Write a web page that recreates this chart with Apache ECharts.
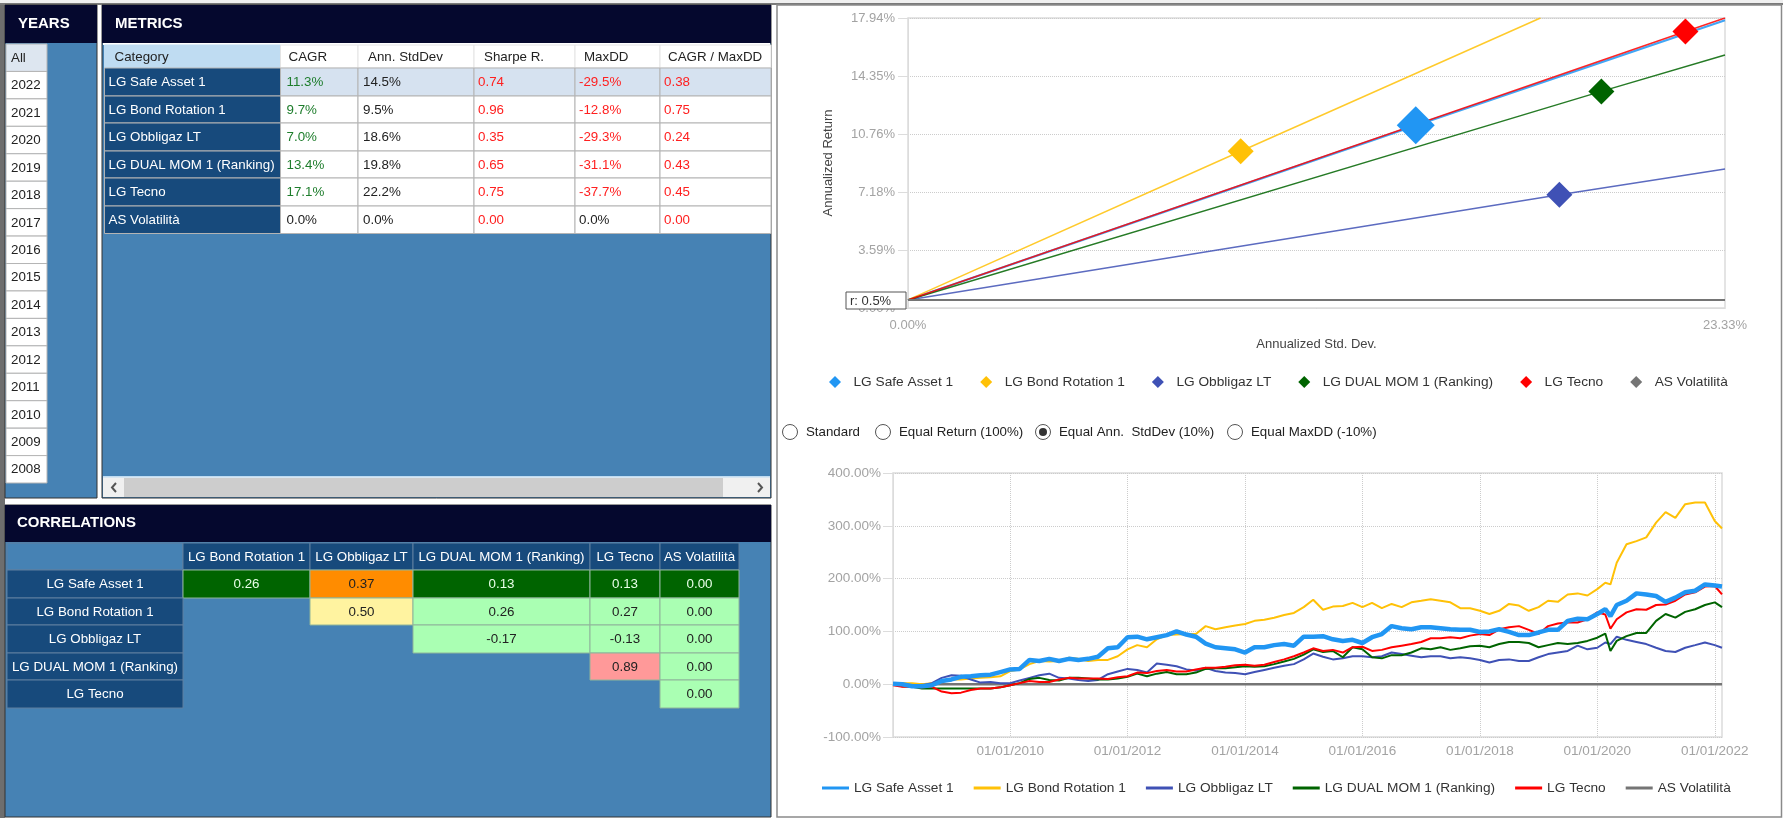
<!DOCTYPE html>
<html>
<head>
<meta charset="utf-8">
<title>Portfolio metrics</title>
<script src="https://cdn.jsdelivr.net/npm/echarts@6/dist/echarts.min.js"></script>
<style>
    html, body { margin: 0; padding: 0; background: #fff; }
    #main { width: 1783px; height: 818px; }
</style>
</head>
<body>
<div id="main"></div>
<script>
const seriesNames = ['LG Safe Asset 1', 'LG Bond Rotation 1', 'LG Obbligaz LT', 'LG DUAL MOM 1 (Ranking)', 'LG Tecno', 'AS Volatilità'];

// years list
const yearLabels = ['All', '2022', '2021', '2020', '2019', '2018', '2017', '2016', '2015', '2014', '2013', '2012', '2011', '2010', '2009', '2008'];

// metrics table
const metricHeaders = ['Category', 'CAGR', 'Ann. StdDev', 'Sharpe R.', 'MaxDD', 'CAGR / MaxDD'];
const cagr = [11.3, 9.7, 7.0, 13.4, 17.1, 0.0];
const annStdDev = [14.5, 9.5, 18.6, 19.8, 22.2, 0.0];
const sharpe = [0.74, 0.96, 0.35, 0.65, 0.75, 0.00];
const maxDD = [-29.5, -12.8, -29.3, -31.1, -37.7, 0.0];
const cagrMaxDD = [0.38, 0.75, 0.24, 0.43, 0.45, 0.00];

// correlations table
const corrRowNames = ['LG Safe Asset 1', 'LG Bond Rotation 1', 'LG Obbligaz LT', 'LG DUAL MOM 1 (Ranking)', 'LG Tecno'];
const corrColNames = ['LG Bond Rotation 1', 'LG Obbligaz LT', 'LG DUAL MOM 1 (Ranking)', 'LG Tecno', 'AS Volatilità'];
const corrSafe = [0.26, 0.37, 0.13, 0.13, 0.00];
const corrBond = [null, 0.50, 0.26, 0.27, 0.00];
const corrObbl = [null, null, -0.17, -0.13, 0.00];
const corrDual = [null, null, null, 0.89, 0.00];
const corrTecno = [null, null, null, null, 0.00];

// risk / return chart: [std dev, return]
const riskFree = 0.5;
const riskEnds = [[23.33, 17.8], [18.06, 17.94], [23.33, 8.6], [23.33, 15.65], [23.33, 17.94], [23.33, 0.5]];
const riskTicks = [0, 23.33];

// equity lines
const dates = [
    '2008-01-03', '2008-03-01', '2008-05-01', '2008-07-01', '2008-09-01', '2008-11-01',
    '2009-01-01', '2009-03-01', '2009-05-01', '2009-07-01', '2009-09-01', '2009-11-01',
    '2010-01-01', '2010-03-01', '2010-05-01', '2010-07-01', '2010-09-01', '2010-11-01',
    '2011-01-01', '2011-03-01', '2011-05-01', '2011-07-01', '2011-09-01', '2011-11-01',
    '2012-01-01', '2012-03-01', '2012-05-01', '2012-07-01', '2012-09-01', '2012-11-01',
    '2013-01-01', '2013-03-01', '2013-05-01', '2013-07-01', '2013-09-01', '2013-11-01',
    '2014-01-01', '2014-03-01', '2014-05-01', '2014-07-01', '2014-09-01', '2014-11-01',
    '2015-01-01', '2015-03-01', '2015-05-01', '2015-07-01', '2015-09-01', '2015-11-01',
    '2016-01-01', '2016-03-01', '2016-05-01', '2016-07-01', '2016-09-01', '2016-11-01',
    '2017-01-01', '2017-03-01', '2017-05-01', '2017-07-01', '2017-09-01', '2017-11-01',
    '2018-01-01', '2018-03-01', '2018-05-01', '2018-07-01', '2018-09-01', '2018-11-01',
    '2019-01-01', '2019-03-01', '2019-05-01', '2019-07-01', '2019-09-01', '2019-11-01',
    '2020-01-01', '2020-02-20', '2020-03-23', '2020-05-01', '2020-07-01', '2020-09-01', '2020-11-01',
    '2021-01-01', '2021-03-01', '2021-05-01', '2021-07-01', '2021-09-01', '2021-11-01',
    '2022-01-01', '2022-02-15'
];
const safeAsset = [
    1, 0, -4, -4, -2, 6, 9, 14, 15, 17, 18, 23, 28, 29, 46, 44, 48, 44, 48, 46, 48, 52, 68,
    70, 89, 90, 85, 89, 93, 100, 94, 90, 77, 70, 68, 66, 60, 70, 70, 74, 76, 73, 90, 90, 91,
    85, 82, 84, 78, 89, 95, 110, 106, 104, 108, 108, 106, 104, 103, 103, 99, 100, 104, 99, 93, 93, 98,
    103, 103, 120, 124, 123, 133, 142, 129,
    150, 158, 172, 170, 167, 156, 164, 174, 177, 189, 187, 185
];
const bondRotation = [
    2, 2, 2, 0, 2, 4, 9, 9, 11, 12, 13, 15, 25, 28, 38, 44, 43, 44, 50, 48, 44, 46, 46,
    53, 66, 74, 70, 85, 93, 94, 95, 95, 110, 104, 108, 111, 114, 120, 122, 126, 131, 135, 146, 160, 141,
    147, 148, 154, 146, 154, 144, 152, 146, 155, 158, 161, 158, 155, 144, 144, 139, 133, 139, 152, 149, 139, 146,
    158, 156, 170, 172, 168, 180, 192, 189,
    230, 265, 271, 278, 306, 326, 315, 341, 344, 344, 309, 295
];
const obbligaz = [
    2, 1, -2, -2, 2, 12, 17, 16, 9, 3, 4, 2, 2, 7, 12, 17, 20, 12, 11, 8, 6, 8, 19,
    24, 29, 27, 22, 39, 37, 34, 28, 26, 31, 25, 22, 21, 19, 23, 27, 31, 35, 38, 47, 58, 52,
    47, 49, 53, 53, 51, 53, 60, 57, 54, 51, 53, 53, 49, 51, 49, 46, 41, 46, 47, 44, 44, 51,
    57, 60, 63, 73, 66, 69, 79, 76,
    90, 84, 80, 76, 69, 63, 61, 69, 74, 79, 74, 69
];
const dualMom = [
    0, -4, -5, -8, -8, -8, -8, -8, -8, -8, -8, -6, -2, 2, 10, 12, 8, 7, 12, 12, 11, 9, 9,
    11, 14, 20, 15, 20, 23, 19, 19, 22, 29, 30, 30, 32, 34, 33, 34, 38, 43, 48, 56, 66, 61,
    63, 51, 70, 66, 51, 49, 55, 55, 60, 68, 66, 70, 65, 68, 72, 73, 70, 76, 80, 80, 78, 70,
    74, 78, 76, 78, 82, 88, 96, 63,
    82, 91, 97, 97, 120, 133, 126, 137, 142, 150, 155, 146
];
const tecno = [
    -2, -5, -5, -6, -5, -14, -17, -16, -11, -8, -8, -6, -2, 2, 6, 4, 4, 9, 12, 11, 11, 11, 10,
    13, 15, 22, 21, 25, 27, 24, 24, 28, 31, 31, 33, 36, 37, 35, 37, 42, 47, 53, 60, 68, 63,
    65, 60, 70, 71, 63, 65, 70, 73, 76, 80, 87, 87, 89, 87, 92, 95, 93, 104, 108, 110, 103, 95,
    110, 115, 117, 117, 123, 136, 132, 105,
    123, 136, 142, 141, 150, 151, 158, 170, 174, 185, 186, 170
];
const volDates = ['2008-01-03', '2022-02-15'];
const volValues = [0, 0];
const timeTickDates = ['2010-01-01', '2012-01-01', '2014-01-01', '2016-01-01', '2018-01-01', '2020-01-01', '2022-01-01'];
const timeTickLabels = ['01/01/2010', '01/01/2012', '01/01/2014', '01/01/2016', '01/01/2018', '01/01/2020', '01/01/2022'];

// look
const colors = ['#2196f3', '#ffc107', '#3f51b5', '#006400', '#ff0000', '#757575'];
const FONT = '"Liberation Sans", Arial, sans-serif';
const NAVY = '#05082e', STEEL = '#4682b4', ROWBLUE = '#174a7c', CELLLINE = '#b4b4b4';
const G = '#006400', O = '#ff8c00', Y = '#fff3a0', L = '#aaffb3', P = '#ff9999';
const corrFills = [[G, O, G, G, G], [null, Y, L, L, L], [null, null, L, L, L], [null, null, null, P, L], [null, null, null, null, L]];

function ts(d) {
    return Date.parse(d + 'T00:00:00Z');
}

// every table is a grid whose axes run in pixels, so a custom series can lay cells through api.coord
function tableParts(index, left, top, colEdges, rowEdges, cells) {
    const w = colEdges[colEdges.length - 1], h = rowEdges[rowEdges.length - 1];
    return {
        grid: { left: left, top: top, width: w, height: h },
        xAxis: { type: 'value', gridIndex: index, min: 0, max: w, show: false },
        yAxis: { type: 'value', gridIndex: index, min: 0, max: h, inverse: true, show: false },
        series: {
            type: 'custom', xAxisIndex: index, yAxisIndex: index, clip: false, silent: true,
            data: cells.map(function (c) { return [c.col, c.row]; }),
            renderItem: function (params, api) {
                const c = cells[params.dataIndex];
                const p0 = api.coord([colEdges[c.col], rowEdges[c.row]]);
                const p1 = api.coord([colEdges[c.col + 1], rowEdges[c.row + 1]]);
                const children = [{
                    type: 'rect',
                    shape: { x: p0[0], y: p0[1], width: p1[0] - p0[0], height: p1[1] - p0[1] },
                    style: { fill: c.fill || 'transparent', stroke: c.line || CELLLINE, lineWidth: 1 }
                }];
                if (c.text !== '') {
                    const center = c.align === 'center';
                    children.push({
                        type: 'text',
                        style: {
                            text: c.text,
                            x: center ? (p0[0] + p1[0]) / 2 : p0[0] + c.pad,
                            y: (p0[1] + p1[1]) / 2 + 0.5,
                            align: center ? 'center' : 'left',
                            verticalAlign: 'middle',
                            fill: c.color,
                            font: '13.35px ' + FONT
                        }
                    });
                }
                return { type: 'group', children: children };
            }
        }
    };
}

function yearCells() {
    return yearLabels.map(function (y, i) {
        return { col: 0, row: i, text: y, fill: i === 0 ? '#dde6f0' : '#fff', color: '#222', pad: 5 };
    });
}

function metricCells() {
    const headerPad = [10, 8, 10, 10, 9, 8];
    const cellPad = [4, 6, 5, 4, 4, 4];
    const cols = [null, cagr, annStdDev, sharpe, maxDD, cagrMaxDD];
    const cells = [];
    metricHeaders.forEach(function (h, c) {
        cells.push({ col: c, row: 0, text: h, fill: c === 0 ? '#bfdcf2' : '#fff', line: c === 0 ? '#bfdcf2' : '#e4e4e4', color: '#222', pad: headerPad[c] });
    });
    seriesNames.forEach(function (name, r) {
        cells.push({ col: 0, row: r + 1, text: name, fill: ROWBLUE, color: '#fff', pad: cellPad[0] });
        for (let c = 1; c < cols.length; c++) {
            const v = cols[c][r];
            let text, color;
            if (c === 3 || c === 5) {
                text = v.toFixed(2);
                color = '#ff2020';
            } else {
                text = v.toFixed(1) + '%';
                color = v === 0 || c === 2 ? '#222' : (c === 1 ? '#1e7d2c' : '#ff2020');
            }
            cells.push({ col: c, row: r + 1, text: text, fill: r === 0 ? '#d6e2f0' : '#fff', color: color, pad: cellPad[c] });
        }
    });
    return cells;
}

function corrCells() {
    const rows = [corrSafe, corrBond, corrObbl, corrDual, corrTecno];
    const cells = [{ col: 0, row: 0, text: '', fill: STEEL, line: '#5f7f9f', color: '#fff', align: 'center' }];
    corrColNames.forEach(function (n, c) {
        cells.push({ col: c + 1, row: 0, text: n, fill: ROWBLUE, line: '#5f7f9f', color: '#fff', align: 'center' });
    });
    corrRowNames.forEach(function (n, r) {
        cells.push({ col: 0, row: r + 1, text: n, fill: ROWBLUE, line: '#5f7f9f', color: '#fff', align: 'center' });
        rows[r].forEach(function (v, c) {
            if (v === null) return;
            const fill = corrFills[r][c];
            cells.push({ col: c + 1, row: r + 1, text: v.toFixed(2), fill: fill, line: '#8fb59a', color: fill === G ? '#e8ffe8' : '#222', align: 'center' });
        });
    });
    return cells;
}

const yearRowEdges = yearLabels.map(function (y, i) { return i * 27.44; }).concat([439]);
const tables = [
    tableParts(2, 6, 44, [0, 41], yearRowEdges, yearCells()),
    tableParts(3, 104.5, 45, [0, 176, 253.5, 369.5, 470.5, 555.5, 666.5], [0, 23, 51, 78, 106, 133, 161, 188.5], metricCells()),
    tableParts(4, 7, 543, [0, 176, 303, 406, 583, 653, 732], [0, 27, 55, 82, 110, 137, 165], corrCells())
];

function panel(x, y, w, h, fill, stroke) {
    return { type: 'rect', shape: { x: x, y: y, width: w, height: h }, style: { fill: fill, stroke: stroke || null, lineWidth: 1 } };
}
function label(text, x, y, font, fill, z) {
    return { type: 'text', z: z || 0, style: { text: text, x: x, y: y, font: font, fill: fill, verticalAlign: 'middle' } };
}
function radio(x, text, checked) {
    const items = [
        { type: 'circle', shape: { cx: x, cy: 432, r: 7.5 }, style: { fill: '#fff', stroke: '#555', lineWidth: 1 } },
        label(text, x + 16, 432, '13.3px ' + FONT, '#222')
    ];
    if (checked) items.push({ type: 'circle', shape: { cx: x, cy: 432, r: 4 }, style: { fill: '#333' } });
    return items;
}

const titleFont = 'bold 15px ' + FONT;
const graphics = [
    panel(0, 0, 1783, 3, '#f0f0f0'),
    panel(0, 3, 1783, 2, '#7a7a7a'),
    panel(0, 5, 5, 813, '#6e6e6e'),
    // left side panels
    panel(5, 5, 92, 493, STEEL, '#333'),
    panel(5, 5, 92, 38, NAVY),
    label('YEARS', 18, 24, titleFont, '#fff'),
    panel(102, 5, 669, 493, STEEL, '#333'),
    panel(102, 5, 669, 38, NAVY),
    panel(103, 43, 667, 2, '#fff'),
    label('METRICS', 115, 24, titleFont, '#fff'),
    panel(103, 477, 667, 20, '#f0f0f0'),
    panel(103, 476, 667, 1.5, '#bfdcf2'),
    panel(124, 478, 599, 19, '#cdcdcd'),
    { type: 'polyline', shape: { points: [[116, 483], [112, 487.5], [116, 492]] }, style: { stroke: '#555', lineWidth: 2, fill: null } },
    { type: 'polyline', shape: { points: [[758, 483], [762, 487.5], [758, 492]] }, style: { stroke: '#555', lineWidth: 2, fill: null } },
    panel(5, 505, 766, 312, STEEL, '#333'),
    panel(5, 505, 766, 37, NAVY),
    label('CORRELATIONS', 17, 523, titleFont, '#fff'),
    // right frame
    { type: 'rect', shape: { x: 777, y: 5, width: 1004.5, height: 812 }, style: { fill: 'transparent', stroke: '#8a8a8a', lineWidth: 1.5 } },
    // risk free box
    { type: 'rect', z: 50, shape: { x: 846, y: 292, width: 60, height: 17 }, style: { fill: '#fff', stroke: '#555', lineWidth: 1 } },
    label('r: 0.5%', 850, 301, '13px ' + FONT, '#333', 51)
].concat(
    radio(790, 'Standard', false),
    radio(883, 'Equal Return (100%)', false),
    radio(1043, 'Equal Ann.  StdDev (10%)', true),
    radio(1235, 'Equal MaxDD (-10%)', false)
);

const points = seriesNames.slice(0, 5).map(function (n, i) { return [annStdDev[i], cagr[i]]; });

const riskSeries = [];
seriesNames.forEach(function (name, i) {
    const line = [[0, riskFree]];
    if (i < 5) line.push(points[i]);
    line.push(riskEnds[i]);
    riskSeries.push({
        name: name, type: 'line', xAxisIndex: 0, yAxisIndex: 0, data: line, showSymbol: false, silent: true,
        z: i === 0 ? 2 : 3,
        lineStyle: { color: colors[i], width: i === 5 ? 2 : (i === 0 ? 2.2 : 1.5), opacity: i === 5 ? 1 : 0.85 },
        itemStyle: { color: colors[i] }
    });
    if (i < 5) {
        riskSeries.push({
            name: name, type: 'scatter', xAxisIndex: 0, yAxisIndex: 0, data: [points[i]],
            symbol: 'diamond', symbolSize: i === 0 ? 38 : 26, silent: true, z: 4,
            itemStyle: { color: colors[i], opacity: 1 }
        });
    }
});

const equity = [safeAsset, bondRotation, obbligaz, dualMom, tecno];
const equitySeries = equity.map(function (values, i) {
    return {
        name: seriesNames[i], type: 'line', xAxisIndex: 1, yAxisIndex: 1, showSymbol: false, silent: true,
        data: values.map(function (v, k) { return [ts(dates[k]), v]; }),
        z: i === 0 ? 6 : (i === 4 ? 5 : 4),
        lineStyle: { color: colors[i], width: i === 0 ? 4.5 : 2 },
        itemStyle: { color: colors[i] }
    };
});
equitySeries.push({
    name: seriesNames[5], type: 'line', xAxisIndex: 1, yAxisIndex: 1, showSymbol: false, silent: true, z: 3,
    data: volDates.map(function (d, k) { return [ts(d), volValues[k]]; }),
    lineStyle: { color: colors[5], width: 2.5 }, itemStyle: { color: colors[5] }
});

const tickColor = '#a3a3a3';
const legendBase = {
    itemWidth: 27, itemHeight: 12, selectedMode: false, padding: 0,
    textStyle: { fontFamily: FONT, fontSize: 13.7, color: '#333' }
};
const timeTicks = timeTickDates.map(ts);

const option = {
    animation: false,
    backgroundColor: '#fff',
    textStyle: { fontFamily: FONT },
    graphic: { elements: graphics },
    legend: [
        Object.assign({}, legendBase, {
            left: 829, top: 375, itemGap: 27,
            data: seriesNames.map(function (n) { return { name: n, icon: 'path://M5 0L10 5L5 10L0 5Z' }; })
        }),
        Object.assign({}, legendBase, {
            left: 822, top: 781, itemGap: 20, itemHeight: 3,
            data: seriesNames.map(function (n) { return { name: n, icon: 'rect' }; })
        })
    ],
    grid: [
        { left: 908, top: 18, width: 817, height: 290, show: true, borderColor: '#dcdcdc', borderWidth: 1.5 },
        { left: 893, top: 473, width: 829, height: 264, show: true, borderColor: '#dcdcdc', borderWidth: 1.5 }
    ].concat(tables.map(function (t) { return t.grid; })),
    xAxis: [
        {
            type: 'value', gridIndex: 0, min: 0, max: riskTicks[1], interval: riskTicks[1],
            name: 'Annualized Std. Dev.', nameLocation: 'middle', nameGap: 30,
            nameTextStyle: { fontFamily: FONT, fontSize: 13, color: '#444' },
            axisLine: { lineStyle: { color: '#dcdcdc' } }, axisTick: { show: false }, splitLine: { show: false },
            axisLabel: { color: tickColor, fontSize: 13, fontFamily: FONT, margin: 11, formatter: function (v) { return v.toFixed(2) + '%'; } }
        },
        {
            type: 'value', gridIndex: 1, min: ts('2008-01-03'), max: ts('2022-02-15'),
            axisLine: { lineStyle: { color: '#dcdcdc' } },
            axisTick: { customValues: timeTicks, length: 4, lineStyle: { color: '#dcdcdc' } },
            splitLine: { show: true, lineStyle: { color: '#cccccc', type: 'dotted' } },
            axisLabel: {
                customValues: timeTicks, color: tickColor, fontSize: 13.5, fontFamily: FONT, margin: 7,
                formatter: function (v) { return timeTickLabels[timeTicks.indexOf(v)]; }
            }
        }
    ].concat(tables.map(function (t) { return t.xAxis; })),
    yAxis: [
        {
            type: 'value', gridIndex: 0, min: 0, max: 17.94, interval: 3.588,
            name: 'Annualized Return', nameLocation: 'middle', nameGap: 73, nameRotate: 90,
            nameTextStyle: { fontFamily: FONT, fontSize: 13, color: '#444' },
            axisLine: { show: true, lineStyle: { color: '#dcdcdc' } },
            axisTick: { show: true, length: 10, lineStyle: { color: '#dcdcdc' } },
            splitLine: { lineStyle: { color: '#cccccc', type: 'dotted' } },
            axisLabel: { color: tickColor, fontSize: 13, fontFamily: FONT, margin: 13, formatter: function (v) { return v.toFixed(2) + '%'; } }
        },
        {
            type: 'value', gridIndex: 1, min: -100, max: 400, interval: 100,
            axisLine: { show: true, lineStyle: { color: '#dcdcdc' } },
            axisTick: { show: true, length: 10, lineStyle: { color: '#dcdcdc' } },
            splitLine: { lineStyle: { color: '#cccccc', type: 'dotted' } },
            axisLabel: { color: tickColor, fontSize: 13.5, fontFamily: FONT, margin: 12, formatter: function (v) { return v.toFixed(2) + '%'; } }
        }
    ].concat(tables.map(function (t) { return t.yAxis; })),
    series: riskSeries.concat(equitySeries, tables.map(function (t) { return t.series; }))
};

const myChart = echarts.init(document.getElementById('main'));
myChart.setOption(option);
</script>
</body>
</html>
